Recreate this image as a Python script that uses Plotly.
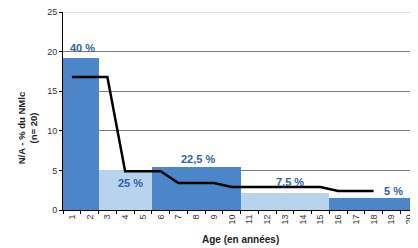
import plotly.graph_objects as go

ages = [str(i) for i in range(1, 21)]
bar_values = [19.2, 19.2, 5.1, 5.1, 5.1, 5.4, 5.4, 5.4, 5.4, 5.4,
              2.2, 2.2, 2.2, 2.2, 2.2, 1.5, 1.5, 1.5, 1.5, 1.5]
bar_group = [0, 0, 1, 1, 1, 0, 0, 0, 0, 0, 1, 1, 1, 1, 1, 0, 0, 0, 0, 0]
line_ages = [str(i) for i in range(1, 19)]
line_values = [16.8, 16.8, 16.8, 4.9, 4.9, 4.9, 3.4, 3.4, 3.4,
               2.9, 2.9, 2.9, 2.9, 2.9, 2.9, 2.4, 2.4, 2.4]
label_texts = ["40 %", "25 %", "22,5 %", "7,5 %", "5 %"]
label_x = [0.6, 3.3, 7.1, 12.3, 18.1]
label_y = [20.5, 3.4, 6.4, 3.5, 2.4]
y_ticks = [0, 5, 10, 15, 20, 25]

DARK = "#4A86C8"
LIGHT = "#B8D3EE"
colors = [DARK if g == 0 else LIGHT for g in bar_group]

fig = go.Figure()
fig.add_trace(go.Bar(x=ages, y=bar_values, marker=dict(color=colors, line=dict(width=0)),
                     hoverinfo="skip"))
fig.add_trace(go.Scatter(x=line_ages, y=line_values, mode="lines",
                         line=dict(color="black", width=2.5)))

for t, x, y in zip(label_texts, label_x, label_y):
    fig.add_annotation(x=x, y=y, xref="x", yref="y", text="<b>%s</b>" % t, showarrow=False,
                       xanchor="center", yanchor="middle",
                       font=dict(family="Liberation Sans", size=11, color="#2F62A3"))

fig.add_annotation(x=-0.1, y=0.41, xref="paper", yref="paper", textangle=-90,
                   xanchor="center", yanchor="middle",
                   text="<b>N/A - % du NMlc<br>(n= 20)</b>", showarrow=False,
                   font=dict(family="Liberation Sans", size=9.5, color="#222"))
fig.add_annotation(x=0.5, y=-0.15, xref="paper", yref="paper",
                   xanchor="center", yanchor="middle",
                   text="<b>Age (en années)</b>", showarrow=False,
                   font=dict(family="Liberation Sans", size=10, color="#222"))

# top border line (light grey) at the top of the value range
fig.add_shape(type="line", xref="paper", yref="y", x0=0, x1=1,
              y0=y_ticks[-1], y1=y_ticks[-1], line=dict(color="#bdbdbd", width=1))

fig.update_layout(
    width=410, height=240,
    margin=dict(l=55, r=0, t=4, b=38),
    paper_bgcolor="white", plot_bgcolor="white",
    showlegend=False, bargap=0,
    font=dict(family="Liberation Sans", size=9, color="#333"),
)
fig.update_xaxes(type="category", tickangle=-90, showline=True, linecolor="black",
                 linewidth=1, ticks="outside", tickson="boundaries", ticklen=3,
                 tickcolor="black", tickfont=dict(size=9), showgrid=False,
                 automargin=False, ticklabeloverflow="allow")
fig.update_yaxes(range=[0, 25], tickvals=y_ticks, showline=True, linecolor="black",
                 linewidth=1, ticks="outside", ticklen=3, tickcolor="black",
                 gridcolor="#7f7f7f", gridwidth=1, zeroline=False, tickfont=dict(size=9),
                 automargin=False, ticklabeloverflow="allow")

fig.write_html("out.html")
